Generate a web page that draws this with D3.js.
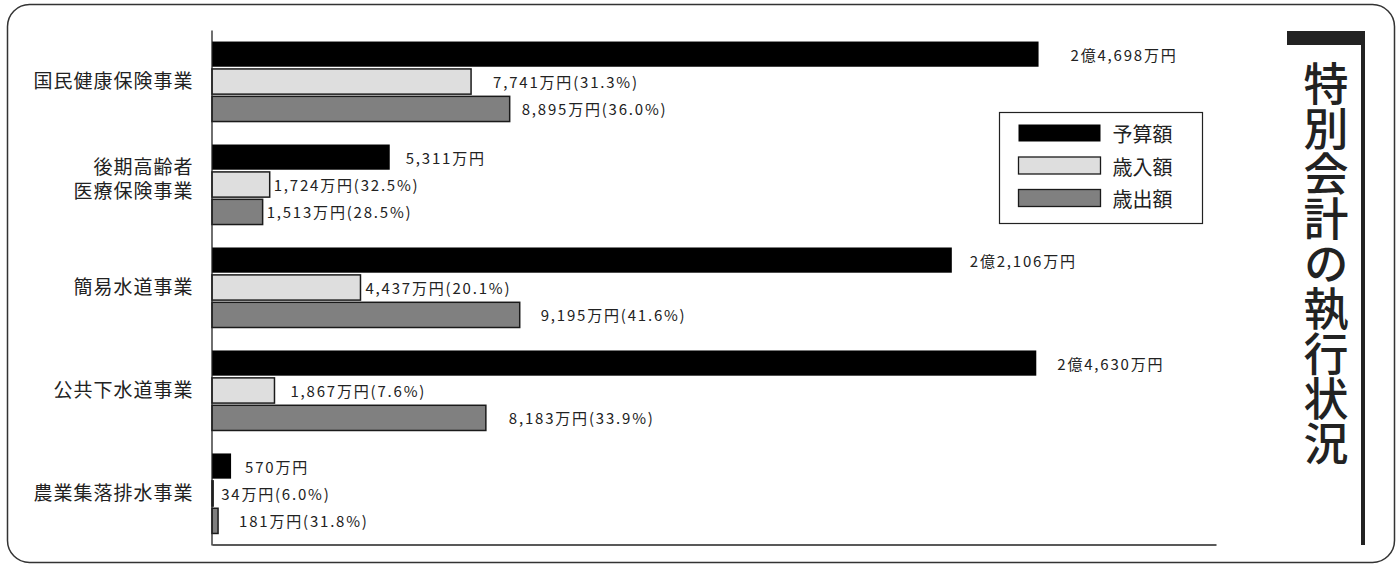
<!DOCTYPE html>
<html>
<head>
<meta charset="utf-8">
<script src="https://cdn.jsdelivr.net/npm/d3@7"></script>
<style>
  html, body { margin: 0; padding: 0; background: #fff; }
  svg { display: block; font-family: "Noto Sans CJK JP", "Noto Sans", sans-serif; }
</style>
</head>
<body>
<div id="chart"></div>
<script>
// 事業ごとの 予算額 / 歳入額 / 歳出額 (単位: 万円)
const categories = ['国民健康保険事業', '後期高齢者\n医療保険事業', '簡易水道事業', '公共下水道事業', '農業集落排水事業'];
const seriesNames = ['予算額', '歳入額', '歳出額'];
const budget = [24698, 5311, 22106, 24630, 570];
const revenue = [7741, 1724, 4437, 1867, 34];
const expenditure = [8895, 1513, 9195, 8183, 181];
const revenuePct = [31.3, 32.5, 20.1, 7.6, 6.0];
const expenditurePct = [36.0, 28.5, 41.6, 33.9, 31.8];
const titleText = '特別会計の執行状況';

// label gap after each bar end (hand placed in the original)
const labelGap = [
  [32, 22, 12],
  [16, 4, 4],
  [18, 5, 21],
  [21, 16, 23],
  [14, 8, 21],
];

const FILL = { '予算額': '#000', '歳入額': '#dedede', '歳出額': '#808080' };
const W = 1396, H = 566;

const svg = d3.select('#chart').append('svg')
  .attr('width', W)
  .attr('height', H)
  .attr('viewBox', [0, 0, W, H]);

// outer rounded frame
svg.append('rect')
  .attr('x', 7.5).attr('y', 4.5)
  .attr('width', 1387).attr('height', 558)
  .attr('rx', 22).attr('ry', 22)
  .attr('fill', 'none')
  .attr('stroke', '#333')
  .attr('stroke-width', 1.5);

const x = d3.scaleLinear().domain([0, 30000]).range([212, 1216]);
const y = d3.scaleBand().domain(categories).range([30, 545])
  .paddingInner(0.223).paddingOuter(0.112);
const ySub = d3.scaleBand().domain(seriesNames).range([0, y.bandwidth()]).paddingInner(0.08);

const fmt = d3.format(',');
function budgetLabel(v) {
  if (v >= 10000) return Math.floor(v / 10000) + '億' + fmt(v % 10000) + '万円';
  return fmt(v) + '万円';
}

const rows = categories.map((c, i) => ({
  cat: c,
  items: [
    { key: '予算額', value: budget[i], label: budgetLabel(budget[i]), gap: labelGap[i][0] },
    { key: '歳入額', value: revenue[i], label: fmt(revenue[i]) + '万円(' + revenuePct[i].toFixed(1) + '%)', gap: labelGap[i][1] },
    { key: '歳出額', value: expenditure[i], label: fmt(expenditure[i]) + '万円(' + expenditurePct[i].toFixed(1) + '%)', gap: labelGap[i][2] },
  ]
}));

const group = svg.append('g')
  .selectAll('g')
  .data(rows)
  .join('g')
  .attr('transform', d => `translate(0,${y(d.cat)})`);

group.selectAll('rect')
  .data(d => d.items)
  .join('rect')
  .attr('x', x(0))
  .attr('y', d => ySub(d.key))
  .attr('width', d => x(d.value) - x(0))
  .attr('height', ySub.bandwidth())
  .attr('fill', d => FILL[d.key])
  .attr('stroke', d => d.key === '予算額' ? 'none' : '#1a1a1a')
  .attr('stroke-width', 1.5);

group.selectAll('text')
  .data(d => d.items)
  .join('text')
  .attr('x', d => x(d.value) + d.gap)
  .attr('y', d => ySub(d.key) + ySub.bandwidth() / 2)
  .attr('dominant-baseline', 'central')
  .attr('font-size', 15)
  .attr('letter-spacing', 1.8)
  .attr('fill', '#222')
  .text(d => d.label);

// left axis (category labels)
const yAxis = svg.append('g')
  .attr('transform', `translate(${x(0) - 0.5},0)`)
  .call(d3.axisLeft(y).tickSize(0).tickSizeOuter(0).tickPadding(18));
yAxis.select('.domain').attr('stroke', '#222').attr('stroke-width', 1.3);
yAxis.selectAll('.tick text')
  .attr('font-size', 19)
  .attr('font-family', '"Noto Sans CJK JP", sans-serif')
  .attr('letter-spacing', 1)
  .attr('fill', '#222')
  .each(function (d) {
    const lines = d.split('\n');
    if (lines.length < 2) return;
    const t = d3.select(this).text(null).attr('dy', null);
    lines.forEach((s, k) => {
      t.append('tspan')
        .attr('x', -18)
        .attr('dy', k === 0 ? '-0.57em' : '1.3em')
        .text(s);
    });
  });

// bottom base line
const xAxis = svg.append('g')
  .attr('transform', `translate(0,${544.5})`)
  .call(d3.axisBottom(x).tickValues([]).tickSizeOuter(0));
xAxis.select('.domain').attr('stroke', '#222').attr('stroke-width', 1.3);

// legend
const legend = svg.append('g').attr('transform', 'translate(999.5,112.5)');
legend.append('rect')
  .attr('width', 203).attr('height', 111)
  .attr('fill', '#fff').attr('stroke', '#222').attr('stroke-width', 1.2);
const li = legend.selectAll('g.item')
  .data(seriesNames)
  .join('g')
  .attr('class', 'item')
  .attr('transform', (d, i) => `translate(19,${12 + i * 32.5})`);
li.append('rect')
  .attr('width', 82).attr('height', 17)
  .attr('fill', d => FILL[d])
  .attr('stroke', '#1a1a1a')
  .attr('stroke-width', d => d === '予算額' ? 0 : 1.3);
li.append('text')
  .attr('x', 94).attr('y', 9)
  .attr('dominant-baseline', 'central')
  .attr('font-size', 20)
  .attr('fill', '#222')
  .text(d => d);

// vertical title with bracket
svg.append('rect')
  .attr('x', 1287).attr('y', 31).attr('width', 78).attr('height', 14)
  .attr('fill', '#222');
svg.append('rect')
  .attr('x', 1361).attr('y', 31).attr('width', 4).attr('height', 514)
  .attr('fill', '#222');
svg.append('text')
  .attr('x', 1326)
  .attr('y', 61)
  .style('writing-mode', 'vertical-rl')
  .style('text-orientation', 'upright')
  .attr('font-size', 45)
  .attr('font-weight', 500)
  .attr('fill', '#222')
  .text(titleText);
</script>
</body>
</html>
